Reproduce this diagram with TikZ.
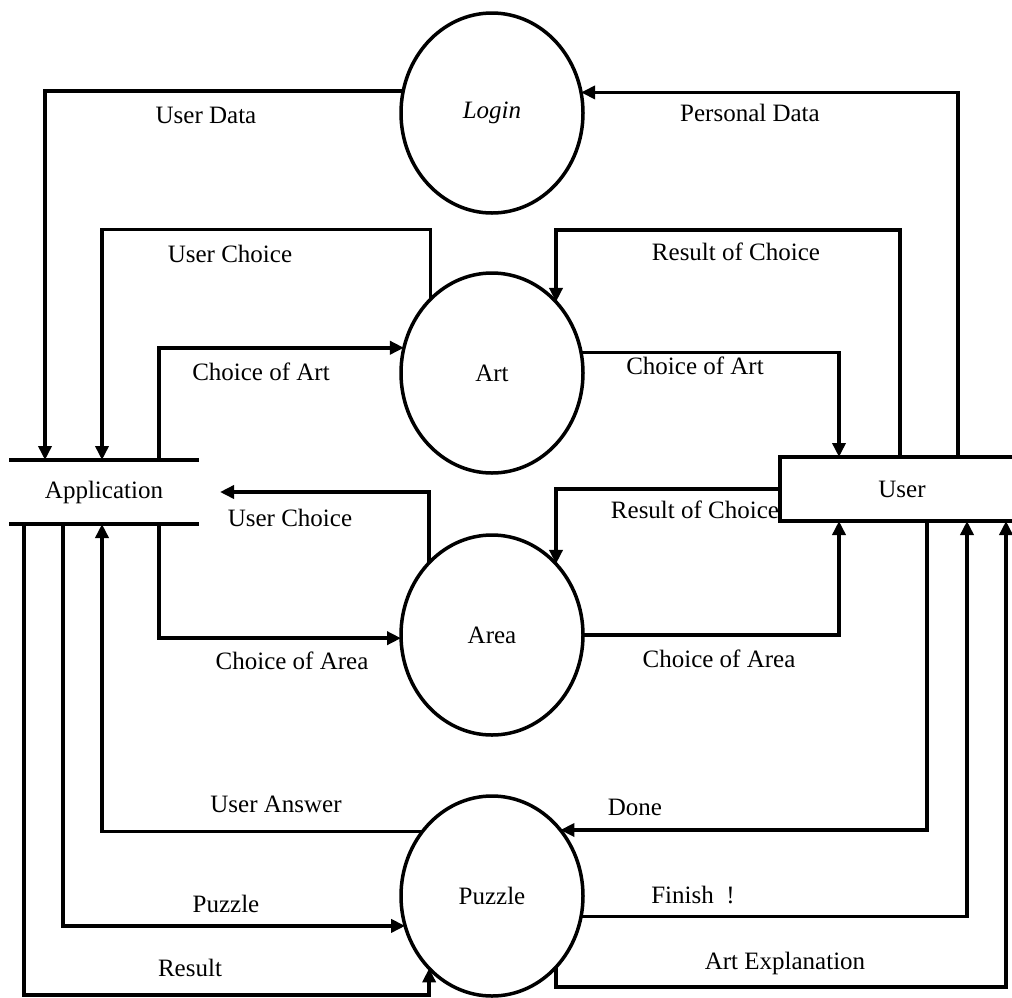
\documentclass[tikz,border=0pt]{standalone}
\usepackage{fontspec}
\setmainfont{Liberation Serif}
\usetikzlibrary{arrows.meta,shapes.geometric}
\begin{document}
\begin{tikzpicture}[x=1pt,y=-1pt,
  font=\fontsize{25}{29}\selectfont,
  flow/.style={line width=3.5pt,-{Triangle[length=14pt,width=13pt]}},
  plain/.style={line width=3.5pt},
  proc/.style={ellipse,draw,line width=3.5pt,minimum width=182pt,minimum height=200pt,inner sep=0pt,outer sep=0pt},
  store/.style={minimum width=190pt,minimum height=64pt,inner sep=0pt,outer sep=0pt},
  ext/.style={rectangle,draw,line width=3.5pt,minimum width=244pt,minimum height=64pt,inner sep=0pt,outer sep=0pt},
  lbl/.style={inner sep=0pt}]
\useasboundingbox (0,0) rectangle (1012,997);
\clip (0,0) rectangle (1012,997);

% processes
\node[proc] (login) at (492,113) {\itshape Login};
\node[proc] (art) at (492,373) {\raisebox{-6pt}{Art}};
\node[proc] (area) at (492,635) {\raisebox{-3pt}{Area}};
\node[proc] (puzzle) at (492,896) {Puzzle};

% data store and external entity
\node[store] (app) at (104,492) {Application};
\draw[plain] (app.north west) -- (app.north east);
\draw[plain] (app.south west) -- (app.south east);
\node[ext] (user) at (902,489) {User};

% login
\draw[flow] (login.166.7) -| ([xshift=-59pt]app.north);
\draw[flow] ([xshift=56pt]user.north) |- (login.13.3);

% art
\draw[flow] (art.130.3) -- ++(0,-70) -| ([xshift=-2pt]app.north);
\draw[flow] ([xshift=-2pt]user.north) -- ++(0,-227) -| (art.48);
\draw[flow] ([xshift=55pt]app.north) |- (art.164.8);
\draw[flow] (art.13.9) -| ([xshift=-63pt]user.north);

% area
\draw[flow] (area.131.1) |- ([xshift=21pt]app.east);
\draw[flow] (user.west) -| (area.48);
\draw[flow] ([xshift=55pt]app.south) |- (area.182.5);
\draw[flow] (area.east) -| ([xshift=-63pt]user.south);

% puzzle
\draw[flow] (puzzle.137.5) -| ([xshift=-2pt]app.south);
\draw[flow] ([xshift=-41pt]app.south) |- (puzzle.199.7);
\draw[flow] ([xshift=-80pt]app.south) -- ++(0,471) -| (puzzle.229.5);
\draw[flow] ([xshift=25pt]user.south) |- (puzzle.44);
\draw[flow] (puzzle.-13.9) -| ([xshift=65pt]user.south);
\draw[flow] (puzzle.-48) -- ++(0,20) -| ([xshift=104pt]user.south);

% flow labels
\node[lbl] (l1) at (206,115) {User Data};
\node[lbl] (l2) at (750,113) {Personal Data};
\node[lbl] (l3) at (230,254) {User Choice};
\node[lbl] (l4) at (736,252) {Result of Choice};
\node[lbl] (l5) at (261,372) {Choice of Art};
\node[lbl] (l6) at (695,366) {Choice of Art};
\node[lbl] (l7) at (290,518) {User Choice};
\node[lbl] (l8) at (695,510) {Result of Choice};
\node[lbl] (l9) at (292,661) {Choice of Area};
\node[lbl] (l10) at (719,659) {Choice of Area};
\node[lbl] (l11) at (276,804) {User Answer};
\node[lbl] (l12) at (635,807) {Done};
\node[lbl] (l13) at (226,904) {Puzzle};
\node[lbl] (l14) at (693,895) {Finish\ \ !};
\node[lbl] (l15) at (190,968) {Result};
\node[lbl] (l16) at (785,963) {Art Explanation};
\end{tikzpicture}
\end{document}
